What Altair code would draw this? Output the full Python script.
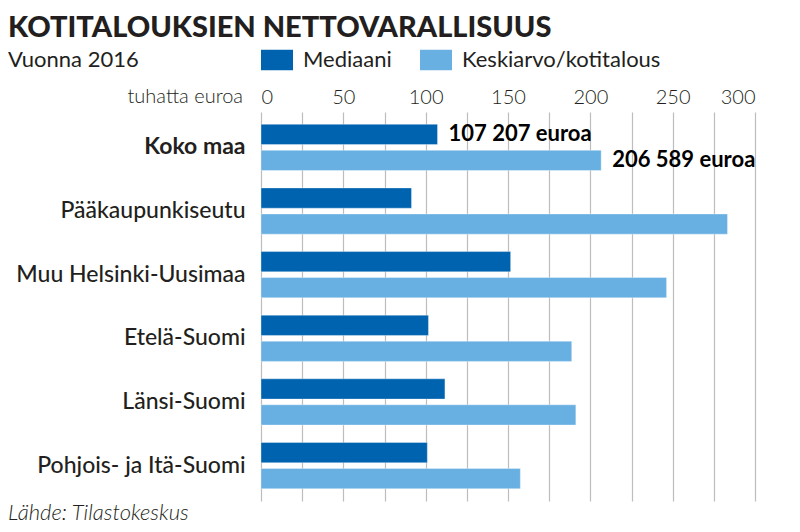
import pandas as pd
import altair as alt

FONT = "Lato"
INK = "#231F20"

regions = ["Koko maa", "Pääkaupunkiseutu", "Muu Helsinki-Uusimaa",
           "Etelä-Suomi", "Länsi-Suomi", "Pohjois- ja Itä-Suomi"]
series = ["Mediaani", "Keskiarvo/kotitalous"]
median_values = [107.2, 91.4, 151.6, 101.7, 111.7, 101.0]
mean_values = [206.6, 283.3, 246.3, 188.7, 191.2, 157.5]
colors = ["#0063AF", "#69B0E2"]
grid_values = [0, 25, 50, 75, 100, 125, 150, 175, 200, 225, 250, 275, 300]

note_region = "Koko maa"
note_texts = ["107 207 euroa", "206 589 euroa"]

title_text = "KOTITALOUKSIEN NETTOVARALLISUUS"
subtitle_text = "Vuonna 2016"
unit_text = "tuhatta euroa"
source_text = "Lähde: Tilastokeskus"

df = pd.DataFrame({
    "region": regions * 2,
    "series": [series[0]] * len(regions) + [series[1]] * len(regions),
    "value": median_values + mean_values,
})
notes = pd.DataFrame({
    "region": [note_region, note_region],
    "series": series,
    "value": [median_values[0], mean_values[0]],
    "label": note_texts,
})

y_enc = alt.Y("region:N", sort=regions, title=None,
              scale=alt.Scale(paddingInner=0.273, paddingOuter=0.193),
              axis=alt.Axis(domain=False, ticks=False, labelFont=FONT,
                            labelFontSize=23, labelColor=INK, labelPadding=16,
                            labelLimit=300,
                            labelFontWeight={"condition": {"test": "datum.value == 'Koko maa'", "value": "bold"},
                                             "value": 500}))
yoff_enc = alt.YOffset("series:N", sort=series,
                       scale=alt.Scale(paddingInner=0.22, paddingOuter=0))
x_enc = alt.X("value:Q", title=None,
              scale=alt.Scale(domain=[0, 300], nice=False),
              axis=alt.Axis(orient="top", values=grid_values, domain=False,
                            ticks=False, tickSize=0, grid=True,
                            gridColor="#BDBDBD", gridWidth=1.2,
                            labelExpr="datum.value % 50 == 0 ? datum.label : ''",
                            labelFont=FONT, labelFontSize=20, labelFontWeight=300,
                            labelColor=INK, labelPadding=9,
                            labelBaseline="alphabetic"))

bars = alt.Chart(df).mark_bar(stroke="white", strokeOpacity=0.35, strokeWidth=1).encode(
    y=y_enc,
    yOffset=yoff_enc,
    x=x_enc,
    color=alt.Color("series:N", sort=series,
                    scale=alt.Scale(domain=series, range=colors),
                    legend=alt.Legend(orient="none", legendX=0, legendY=-68,
                                      direction="horizontal", title=None,
                                      symbolType="M-1,-0.64H1V0.64H-1Z",
                                      symbolSize=1024, symbolStrokeWidth=0,
                                      symbolOpacity=1,
                                      labelFont=FONT, labelFontSize=22,
                                      labelColor=INK, labelOffset=10,
                                      labelLimit=400, columnPadding=28)),
)

note_layer = alt.Chart(notes).mark_text(
    align="left", baseline="middle", dx=11, font=FONT, fontSize=22,
    fontWeight="bold", color="black"
).encode(
    y=alt.Y("region:N", sort=regions),
    yOffset=alt.YOffset("series:N", sort=series),
    x="value:Q",
    text="label:N",
)


def text_layer(txt, x, y, **kw):
    return alt.Chart(pd.DataFrame({"t": [txt]})).mark_text(
        font=FONT, color=INK, baseline="alphabetic", **kw
    ).encode(x=alt.value(x), y=alt.value(y), text="t:N")


title = text_layer(title_text, -253, -75, align="left", fontSize=29, fontWeight=900)
subtitle = text_layer(subtitle_text, -253, -45, align="left", fontSize=22)
unit = text_layer(unit_text, -18, -9, align="right", fontSize=20, fontWeight=300)
source = text_layer(source_text, -253, 408, align="left", fontSize=22,
                    fontStyle="italic", fontWeight=300)

chart = alt.layer(bars, note_layer, title, subtitle, unit, source).properties(
    width=494,
    height=389,
    autosize=alt.AutoSizeParams(type="none"),
    padding={"left": 253, "top": 104, "right": 30, "bottom": 27},
).configure_view(stroke=None)

chart.save("out.html", embed_options={"renderer": "svg", "actions": False})
